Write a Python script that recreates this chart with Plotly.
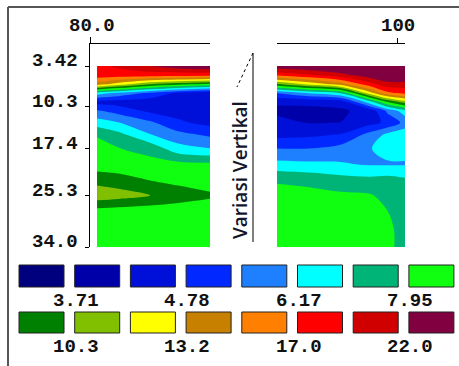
import numpy as np
import plotly.graph_objects as go

# ---------------- data ----------------
depth = [3.42, 5.0, 6.5, 8.0, 9.5, 11.0, 13.0, 15.0, 17.4, 20.0, 22.5, 25.3, 28.0, 31.0, 34.0]
depth_ticks = [3.42, 10.3, 17.4, 25.3, 34.0]
depth_ticktext = ["3.42", "10.3", "17.4", "25.3", "34.0"]

left_x = [81, 84, 88.5, 92.5, 97]
right_x = [83, 87.5, 92, 96, 98.5, 101]
left_tick, left_ticktext = 80, "80.0"
right_tick, right_ticktext = 100, "100"

# resistivity (ohm.m), rows = depth, columns = positions
left_rho = [
    [18.6, 19.8, 22.0, 23.7, 25.0],
    [18.4, 18.2, 17.95, 17.72, 17.5],
    [14.1, 12.4, 10.3, 9.4, 8.7],
    [6.575, 6.015, 5.296, 4.664, 4.30],
    [4.55, 4.50, 4.45, 4.40, 4.35],
    [5.503, 5.163, 4.65, 4.55, 4.45],
    [6.575, 6.20, 5.573, 4.90, 4.60],
    [7.856, 7.278, 6.20, 5.644, 5.296],
    [8.371, 8.00, 7.658, 6.492, 6.20],
    [8.371, 8.265, 8.265, 8.265, 8.161],
    [9.752, 9.507, 8.921, 8.587, 8.265],
    [11.07, 10.80, 10.26, 9.752, 9.268],
    [8.587, 8.478, 8.371, 8.265, 8.161],
    [8.478, 8.478, 8.371, 8.371, 8.371],
    [8.371, 8.371, 8.371, 8.265, 8.265],
]
right_rho = [
    [24.36, 24.99, 25.96, 27.32, 28.02, 28.37],
    [17.28, 18.89, 20.92, 23.44, 24.99, 26.63],
    [10.00, 11.95, 14.10, 18.41, 20.92, 20.65],
    [5.45, 6.20, 7.05, 12.41, 16.43, 17.72],
    [4.25, 4.30, 4.40, 6.575, 9.035, 10.93],
    [4.16, 4.12, 4.14, 4.40, 5.573, 6.659],
    [4.30, 4.20, 4.22, 4.60, 4.90, 5.644],
    [4.58, 4.65, 4.82, 5.644, 6.329, 6.744],
    [5.45, 5.45, 5.717, 6.130, 6.410, 6.492],
    [6.410, 6.329, 6.249, 6.092, 6.092, 6.092],
    [7.756, 7.562, 7.278, 7.186, 7.278, 7.096],
    [8.478, 8.371, 8.161, 8.058, 7.658, 7.466],
    [8.478, 8.587, 8.587, 8.371, 7.98, 7.466],
    [8.478, 8.478, 8.478, 8.371, 8.265, 7.466],
    [8.371, 8.371, 8.371, 8.265, 8.371, 7.372],
]

level_min = 3.71
level_max = 22.0
n_levels = 15
legend_labels = ["3.71", "4.78", "6.17", "7.95", "10.3", "13.2", "17.0", "22.0"]
band_colors = ["#00007F", "#0000A8", "#0010D8", "#0028FF", "#1E7FFF", "#00FFFF",
               "#00B478", "#10FF10", "#008000", "#80C000", "#FFFF00", "#C88000",
               "#FF8000", "#FF0000", "#D00000", "#800040"]

# ---------------- figure ----------------
W, H = 459, 366
def px(x):
    return x / W
def py(y):
    return 1 - y / H

lstart = np.log10(level_min)
lsize = (np.log10(level_max) - lstart) / (n_levels - 1)
lend = lstart + (n_levels - 1) * lsize
nb = len(band_colors)
cscale = [[i / (nb - 1), c] for i, c in enumerate(band_colors)]
contours = dict(start=lstart, end=lend, size=lsize, coloring="fill", showlines=False)

fig = go.Figure()
fig.add_trace(go.Contour(x=left_x, y=depth, z=np.log10(np.array(left_rho)),
                         xaxis="x", yaxis="y", autocontour=False, contours=contours,
                         colorscale=cscale, showscale=False, line=dict(width=0),
                         hoverinfo="skip"))
fig.add_trace(go.Contour(x=right_x, y=depth, z=np.log10(np.array(right_rho)),
                         xaxis="x2", yaxis="y", autocontour=False, contours=contours,
                         colorscale=cscale, showscale=False, line=dict(width=0),
                         hoverinfo="skip"))

tickfont = dict(family="Liberation Mono", size=19, color="#111111", weight="bold")
y_top_px, y_bot_px = 44, 247
y_per_px = (34.0 - 3.42) / (247 - 66)
y_range = [34.0 + (y_bot_px - 247) * y_per_px, 3.42 - (66 - y_top_px) * y_per_px]

axis_common = dict(automargin=False, showline=True, linecolor="black", linewidth=1,
                   showgrid=False, zeroline=False, ticks="outside", tickcolor="black",
                   showticklabels=False)
fig.update_layout(
    width=W, height=H, margin=dict(l=0, r=0, t=0, b=0, autoexpand=False),
    paper_bgcolor="white", plot_bgcolor="white", showlegend=False,
    xaxis=dict(domain=[px(90), px(210)], range=[80, 97], side="top", anchor="y",
               ticklen=6, tickvals=[left_tick], **axis_common),
    xaxis2=dict(domain=[px(277), px(405)], range=[83, 101], side="top", anchor="y",
                ticklen=5, tickvals=[right_tick], **axis_common),
    yaxis=dict(domain=[py(y_bot_px), py(y_top_px)], range=y_range, anchor="x",
               ticklen=4, tickvals=depth_ticks, **axis_common),
)

annotations = []
# tick labels (as annotations, to place them like the original)
for v, t in zip(depth_ticks, depth_ticktext):
    annotations.append(dict(text=t, x=px(80), y=v, xref="paper", yref="y", showarrow=False,
                            xanchor="right", yanchor="middle", yshift=5, font=tickfont))
annotations.append(dict(text=left_ticktext, x=left_tick, y=py(26), xref="x", yref="paper",
                        showarrow=False, xanchor="center", yanchor="middle", xshift=2,
                        font=tickfont))
annotations.append(dict(text=right_ticktext, x=right_tick, y=py(26), xref="x2", yref="paper",
                        showarrow=False, xanchor="center", yanchor="middle", font=tickfont))

shapes = []
# frame lines
shapes.append(dict(type="line", xref="paper", yref="paper", x0=px(8), x1=1, y0=py(7), y1=py(7),
                   line=dict(color="#555555", width=2)))
shapes.append(dict(type="line", xref="paper", yref="paper", x0=px(8), x1=px(8), y0=py(7), y1=0,
                   line=dict(color="#555555", width=2)))
# break marker lines
shapes.append(dict(type="line", xref="paper", yref="paper", x0=px(253), x1=px(253), y0=py(53), y1=py(242),
                   line=dict(color="black", width=1)))
shapes.append(dict(type="line", xref="paper", yref="paper", x0=px(253), x1=px(237), y0=py(53), y1=py(87),
                   line=dict(color="black", width=1, dash="dot")))

annotations.append(dict(text="Variasi Vertikal", x=px(240), y=py(170), xref="paper", yref="paper",
                        showarrow=False, textangle=-90,
                        font=dict(family="Open Sans", size=19, color="#15152a", weight=600)))

# legend boxes
labfont = dict(family="Liberation Mono", size=19, color="#111111", weight="bold")
for i, c in enumerate(band_colors):
    row, col = divmod(i, 8)
    x0 = 19 + col * 55.7
    y0, y1 = (265, 287) if row == 0 else (312, 333)
    shapes.append(dict(type="rect", xref="paper", yref="paper", x0=px(x0), x1=px(x0 + 45),
                       y0=py(y1), y1=py(y0), fillcolor=c, line=dict(color="#222222", width=1)))
for j, lab in enumerate(legend_labels):
    row, col = divmod(j, 4)
    cx = 76 + col * 111.4
    cy = 301 if row == 0 else 347
    annotations.append(dict(text=lab, x=px(cx), y=py(cy), xref="paper", yref="paper",
                            showarrow=False, font=labfont, xanchor="center", yanchor="middle"))

fig.update_layout(shapes=shapes, annotations=annotations)
fig.write_html("out.html")
